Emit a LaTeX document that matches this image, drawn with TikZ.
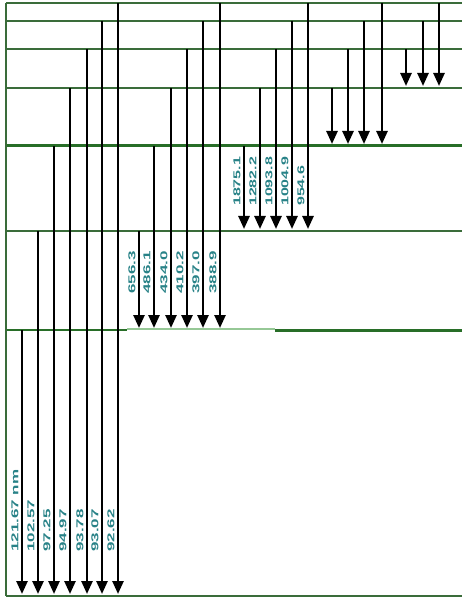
\documentclass[tikz,border=0pt]{standalone}
\usepackage{fontspec}
\setsansfont{Liberation Sans}
\usetikzlibrary{arrows.meta}
\definecolor{lvl}{RGB}{58,108,58}
\definecolor{lvlgreen}{RGB}{40,110,40}
\definecolor{lvllight}{RGB}{150,200,150}
\definecolor{lbl}{RGB}{40,130,135}
\begin{document}
\begin{tikzpicture}[x=1pt,y=-1pt,
  level/.style={draw=lvl, line width=2.8pt},
  trans/.style={draw=black, line width=2.5pt, -{Triangle[width=11pt,length=13pt]}},
  wl/.style={rotate=90, anchor=west, text=lbl, font=\sffamily\bfseries\fontsize{10}{10}\selectfont, inner sep=0pt}]
\useasboundingbox (0,0) rectangle (462,601);
% energy levels
\foreach \y in {3,21,49,88,231,596}{
  \draw[level] (6,\y) -- (462,\y);
}
\draw[level, draw=lvlgreen, line width=3pt] (6,146) -- (462,146);
\draw[level, draw=lvlgreen] (6,330) -- (127,330);
\draw[draw=lvllight, line width=1.2pt] (127,329) -- (275,329);
\draw[level, draw=lvlgreen, line width=3pt] (275,330) -- (462,330);
\draw[level] (6,3) -- (6,596);
% Lyman series
\foreach \x/\y/\t [count=\i] in {22/330/121.67 nm,38/231/102.57,54/146/97.25,70/88/94.97,87/49/93.78,102/21/93.07,118/3/92.62}{
  \coordinate (lys\i) at (\x,\y);
  \coordinate (lye\i) at (\x,594);
  \draw[trans] (lys\i) -- (lye\i);
  \node[wl] (lyt\i) at ({\x-7},552) {\scalebox{1.7}[1]{\t}};
}
% Balmer series
\foreach \x/\y/\t [count=\i] in {139/231/656.3,154/146/486.1,171/88/434.0,187/49/410.2,203/21/397.0,220/3/388.9}{
  \coordinate (bas\i) at (\x,\y);
  \coordinate (bae\i) at (\x,328);
  \draw[trans] (bas\i) -- (bae\i);
  \node[wl] (bat\i) at ({\x-7},294) {\scalebox{1.7}[1]{\t}};
}
% Paschen series
\foreach \x/\y/\t [count=\i] in {244/146/1875.1,260/88/1282.2,276/49/1093.8,292/21/1004.9,308/3/954.6}{
  \coordinate (pas\i) at (\x,\y);
  \coordinate (pae\i) at (\x,229);
  \draw[trans] (pas\i) -- (pae\i);
  \node[wl] (pat\i) at ({\x-7},206) {\scalebox{1.6}[1]{\t}};
}
% Brackett series
\foreach \x/\y [count=\i] in {332/88,348/49,364/21,382/3}{
  \coordinate (brs\i) at (\x,\y);
  \coordinate (bre\i) at (\x,144);
  \draw[trans] (brs\i) -- (bre\i);
}
% Pfund series
\foreach \x/\y [count=\i] in {406/49,423/21,439/3}{
  \coordinate (pfs\i) at (\x,\y);
  \coordinate (pfe\i) at (\x,86);
  \draw[trans] (pfs\i) -- (pfe\i);
}
\end{tikzpicture}
\end{document}
